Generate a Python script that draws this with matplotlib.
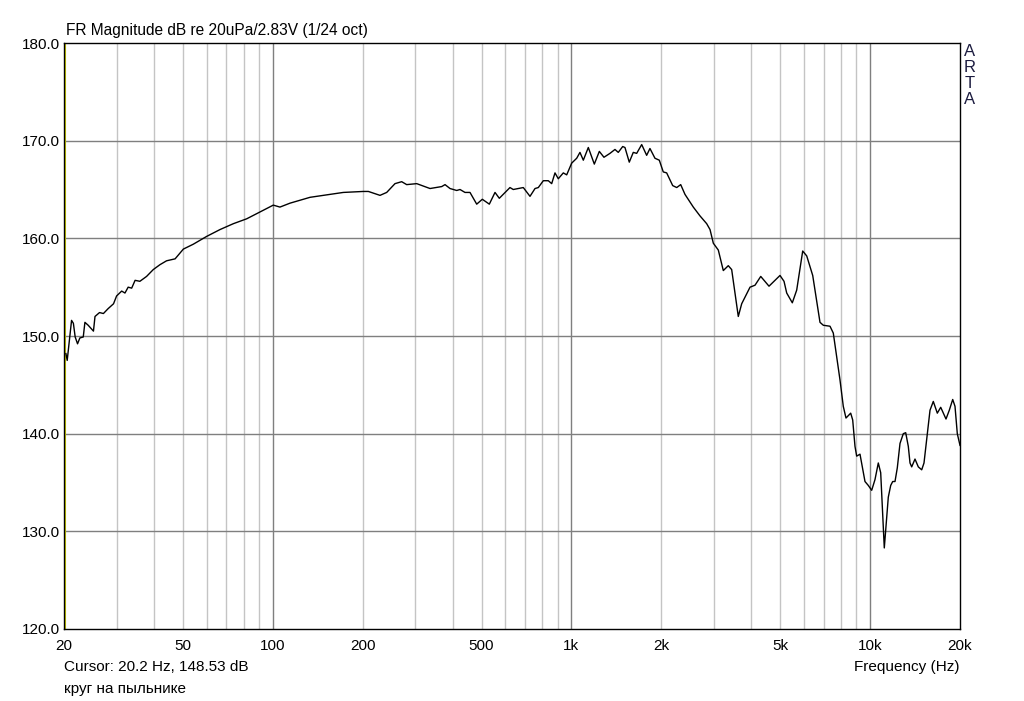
import matplotlib
matplotlib.use("Agg")
import matplotlib.pyplot as plt
from matplotlib.ticker import FixedLocator, NullFormatter, NullLocator

plt.rcParams['font.family'] = ['Liberation Sans', 'DejaVu Sans']

title = "FR Magnitude dB re 20uPa/2.83V (1/24 oct)"
cursor_text = "Cursor: 20.2 Hz, 148.53 dB"
note_text = "круг на пыльнике"
xlabel = "Frequency (Hz)"

freq_hz = [20.3, 20.5, 20.8, 21.2, 21.5, 21.8, 22.2, 22.6, 23.2, 23.5, 24.1, 25.1, 25.4,
           26.3, 27.1, 28.1, 29.3, 30.0, 31.2, 32.0, 32.8, 33.7, 34.6, 35.9, 37.8, 39.8,
           41.9, 44.1, 47.1, 50.2, 54.2, 60.1, 66.6, 73.8, 81.8, 90.6, 100.4, 105.7, 114.2,
           133.3, 155.5, 172.3, 201, 209, 228.6, 240.7, 256.6, 270.2, 280.8, 303.4, 336.2,
           367.9, 377.4, 392.2, 413, 423.6, 440.2, 457.5, 481.8, 503.1, 531, 554.8, 573.5,
           622.6, 638.6, 690, 726.6, 755.3, 774.7, 805.1, 836.7, 858.9, 881, 903.7, 939.3,
           964.2, 1002, 1041.5, 1068, 1096, 1139, 1193, 1240, 1285, 1346, 1399, 1435, 1485,
           1511, 1562, 1611, 1654, 1719, 1786, 1832, 1904, 1969, 2030, 2084, 2183, 2252,
           2322, 2400, 2559, 2694, 2837, 2911, 2986, 3103, 3225, 3351, 3440, 3620, 3716,
           3963, 4118, 4304, 4587, 4993, 5150, 5258, 5490, 5679, 5948, 6135, 6425, 6796,
           6972, 7341, 7530, 7730, 7929, 8133, 8304, 8611, 8745, 8901, 9018, 9251, 9614,
           9862, 10124, 10385, 10653, 10852, 10987, 11157, 11304, 11507, 11722, 11904,
           12117, 12334, 12593, 12918, 13159, 13426, 13603, 13782, 14137, 14502, 14887,
           15153, 15472, 15871, 16279, 16790, 17236, 17954, 18416, 18906, 19244, 19588, 20000]

mag_db = [148.2, 147.5, 149.3, 151.6, 151.3, 149.9, 149.2, 149.8, 149.9, 151.4, 151.1, 150.5, 152.0,
          152.4, 152.3, 152.8, 153.3, 154.1, 154.6, 154.4, 155.0, 154.9, 155.7, 155.6, 156.1, 156.8,
          157.3, 157.7, 157.9, 158.9, 159.4, 160.2, 160.9, 161.5, 162.0, 162.7, 163.4, 163.2, 163.6,
          164.2, 164.5, 164.7, 164.8, 164.8, 164.4, 164.7, 165.6, 165.8, 165.5, 165.6, 165.1,
          165.3, 165.5, 165.1, 164.9, 165.0, 164.7, 164.7, 163.5, 164.0, 163.5, 164.7, 164.1,
          165.2, 165.0, 165.2, 164.3, 165.1, 165.2, 165.9, 165.9, 165.6, 166.7, 166.1, 166.7,
          166.5, 167.7, 168.2, 168.8, 168.0, 169.3, 167.6, 168.9, 168.3, 168.7, 169.1, 168.8, 169.4,
          169.3, 167.8, 168.8, 168.7, 169.6, 168.5, 169.2, 168.2, 168.0, 166.8, 166.7, 165.4, 165.2,
          165.5, 164.5, 163.2, 162.3, 161.5, 160.9, 159.5, 158.8, 156.7, 157.2, 156.8, 152.0, 153.3,
          155.0, 155.2, 156.1, 155.1, 156.2, 155.6, 154.4, 153.4, 154.7, 158.7, 158.2, 156.2, 151.4,
          151.1, 151.0, 150.3, 147.9, 145.5, 142.8, 141.6, 142.1, 141.4, 138.7, 137.7, 137.9, 135.1,
          134.7, 134.2, 135.3, 137.0, 136.0, 132.5, 128.3, 130.5, 133.5, 134.7, 135.1,
          135.1, 136.5, 139.0, 140.0, 140.1, 138.7, 137.0, 136.6, 137.4, 136.6, 136.3,
          137.0, 139.4, 142.4, 143.3, 142.1, 142.7, 141.5, 142.4, 143.5, 142.8, 140.0, 138.8]

x_ticks = [20, 50, 100, 200, 500, 1000, 2000, 5000, 10000, 20000]
x_tick_labels = ["20", "50", "100", "200", "500", "1k", "2k", "5k", "10k", "20k"]
y_ticks = [120, 130, 140, 150, 160, 170, 180]
y_tick_labels = ["120.0", "130.0", "140.0", "150.0", "160.0", "170.0", "180.0"]

major_grid = [100, 1000, 10000]
minor_grid = [m * d for d in (10, 100, 1000) for m in range(2, 10)] + [20000]

W, H = 1024, 701
fig = plt.figure(figsize=(W / 100, H / 100), dpi=100)
L, R, T, B = 64, 960, 43, 629
ax = fig.add_axes([L / W, 1 - B / H, (R - L) / W, (B - T) / H])
ax.set_xscale('log')
ax.set_xlim(20, 20000)
ax.set_ylim(120, 180)

for f in minor_grid:
    if f not in major_grid and 20 < f < 20000:
        ax.axvline(f, color='#c4c4c4', lw=1, zorder=1)
for f in major_grid:
    ax.axvline(f, color='#7f7f7f', lw=1, zorder=1)
for y in y_ticks[1:-1]:
    ax.axhline(y, color='#7f7f7f', lw=1, zorder=1)

ax.axvline(20.2, color='#c8c800', lw=1.5, zorder=2)
ax.plot(freq_hz, mag_db, color='black', lw=1.0, zorder=3)

ax.xaxis.set_major_locator(FixedLocator(x_ticks))
ax.set_xticklabels(x_tick_labels)
ax.xaxis.set_minor_locator(NullLocator())
ax.xaxis.set_minor_formatter(NullFormatter())
ax.set_yticks(y_ticks)
ax.set_yticklabels(y_tick_labels)
ax.tick_params(axis='both', length=0, labelsize=11, colors='black')
ax.tick_params(axis='x', pad=7)
ax.tick_params(axis='y', pad=3)
for s in ax.spines.values():
    s.set_color('black')
    s.set_linewidth(1)

fig.text(L / W + 0.002, 1 - 31 / H, title, fontsize=11.2, va='center', ha='left')
fig.text(L / W, 1 - 667 / H, cursor_text, fontsize=11, va='center', ha='left')
fig.text(L / W, 1 - 689 / H, note_text, fontsize=11, va='center', ha='left')
fig.text(959 / W, 1 - 667 / H, xlabel, fontsize=11, va='center', ha='right')
for i, ch in enumerate("ARTA"):
    fig.text(970 / W, 1 - (51 + i * 16) / H, ch, fontsize=12, va='center', ha='center',
             color='#1c1c40')

fig.savefig("out.png", dpi=100, facecolor='white')
